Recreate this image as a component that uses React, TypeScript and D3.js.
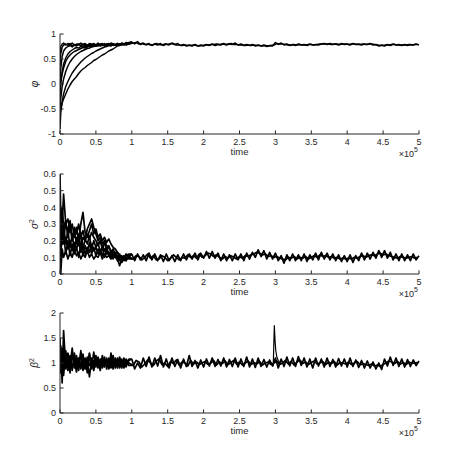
import React from 'react';
import * as d3 from 'd3';

// ---------- data ----------
// early-phase sampling times (units of 1e5)
const EARLY_T = [0, 0.01, 0.03, 0.05, 0.08, 0.11, 0.14, 0.17, 0.2, 0.23, 0.26, 0.29, 0.32, 0.35, 0.38, 0.41, 0.44, 0.47, 0.5, 0.53, 0.56, 0.59, 0.62, 0.65, 0.68, 0.71, 0.74, 0.77, 0.8, 0.83, 0.86, 0.89, 0.92, 0.96];
// converged tails: run A sampled from 1.00, run B from 1.02, both every 0.04
const TAIL_A_START = 1.0;
const TAIL_B_START = 1.02;
const TAIL_STEP = 0.04;

const PHI_RUNS = [
  [-0.55, -0.5, -0.38, -0.3, -0.2, -0.1, -0.02, 0.05, 0.1, 0.15, 0.21, 0.26, 0.3, 0.33, 0.37, 0.4, 0.43, 0.47, 0.49, 0.52, 0.55, 0.58, 0.6, 0.63, 0.66, 0.68, 0.7, 0.73, 0.76, 0.77, 0.79, 0.8, 0.79, 0.82],
  [-0.9, -0.6, -0.35, -0.2, -0.05, 0.05, 0.14, 0.22, 0.28, 0.34, 0.39, 0.44, 0.48, 0.52, 0.55, 0.58, 0.61, 0.63, 0.66, 0.68, 0.7, 0.72, 0.74, 0.75, 0.77, 0.76, 0.79, 0.78, 0.8, 0.78, 0.81, 0.79, 0.8, 0.82],
  [-0.5, -0.3, -0.05, 0.1, 0.25, 0.36, 0.44, 0.5, 0.55, 0.59, 0.62, 0.65, 0.67, 0.69, 0.71, 0.72, 0.74, 0.75, 0.77, 0.76, 0.78, 0.77, 0.79, 0.78, 0.8, 0.77, 0.79, 0.78, 0.81, 0.78, 0.8, 0.79, 0.81, 0.83],
  [-0.3, 0.0, 0.25, 0.4, 0.52, 0.6, 0.65, 0.68, 0.71, 0.73, 0.72, 0.75, 0.74, 0.76, 0.75, 0.78, 0.76, 0.78, 0.77, 0.79, 0.76, 0.78, 0.77, 0.8, 0.78, 0.8, 0.77, 0.79, 0.78, 0.8, 0.79, 0.81, 0.78, 0.8],
  [-0.1, 0.05, 0.2, 0.32, 0.45, 0.53, 0.58, 0.62, 0.65, 0.67, 0.69, 0.71, 0.73, 0.72, 0.74, 0.76, 0.75, 0.77, 0.76, 0.78, 0.77, 0.79, 0.76, 0.78, 0.8, 0.77, 0.79, 0.78, 0.8, 0.79, 0.81, 0.78, 0.8, 0.82],
  [0.0, 0.3, 0.55, 0.66, 0.72, 0.75, 0.77, 0.74, 0.78, 0.76, 0.79, 0.77, 0.8, 0.76, 0.78, 0.77, 0.8, 0.78, 0.79, 0.77, 0.8, 0.78, 0.81, 0.77, 0.79, 0.78, 0.8, 0.77, 0.79, 0.8, 0.78, 0.8, 0.79, 0.81],
  [0.35, 0.6, 0.74, 0.78, 0.8, 0.77, 0.81, 0.76, 0.79, 0.78, 0.8, 0.76, 0.79, 0.81, 0.77, 0.8, 0.78, 0.81, 0.76, 0.79, 0.78, 0.8, 0.77, 0.79, 0.81, 0.78, 0.8, 0.79, 0.81, 0.78, 0.8, 0.79, 0.82, 0.8],
  [0.6, 0.75, 0.8, 0.82, 0.78, 0.81, 0.79, 0.82, 0.77, 0.8, 0.79, 0.82, 0.78, 0.8, 0.77, 0.81, 0.79, 0.8, 0.78, 0.82, 0.79, 0.81, 0.78, 0.8, 0.79, 0.82, 0.8, 0.78, 0.81, 0.79, 0.82, 0.8, 0.83, 0.81],
];

const PHI_TAIL_A = [
  0.84, 0.80, 0.85, 0.79, 0.82, 0.78, 0.81, 0.77, 0.80, 0.78, 0.81, 0.77, 0.80, 0.78, 0.82, 0.79, 0.81, 0.77, 0.79, 0.76, 0.78, 0.76, 0.79, 0.76, 0.78,
  0.76, 0.79, 0.77, 0.80, 0.77, 0.79, 0.78, 0.81, 0.78, 0.80, 0.79, 0.82, 0.78, 0.80, 0.77, 0.79, 0.77, 0.79, 0.76, 0.78, 0.76, 0.78, 0.75, 0.77, 0.76,
  0.83, 0.79, 0.82, 0.78, 0.80, 0.77, 0.79, 0.77, 0.80, 0.78, 0.79, 0.77, 0.80, 0.78, 0.79, 0.78, 0.80, 0.81, 0.79, 0.81, 0.79, 0.80, 0.78, 0.81, 0.79,
  0.80, 0.78, 0.81, 0.79, 0.80, 0.78, 0.80, 0.79, 0.81, 0.78, 0.79, 0.76, 0.78, 0.76, 0.79, 0.77, 0.80, 0.78, 0.79, 0.77, 0.79, 0.77, 0.79, 0.78, 0.80,
  0.78,
];
const PHI_TAIL_B = [
  0.82, 0.83, 0.80, 0.81, 0.79, 0.80, 0.78, 0.79, 0.81, 0.79, 0.78, 0.80, 0.79, 0.81, 0.80, 0.78, 0.78, 0.77, 0.78, 0.77, 0.77, 0.78, 0.77, 0.76, 0.77,
  0.78, 0.78, 0.79, 0.79, 0.80, 0.79, 0.80, 0.79, 0.80, 0.81, 0.79, 0.79, 0.78, 0.78, 0.77, 0.78, 0.77, 0.78, 0.77, 0.77, 0.76, 0.77, 0.76, 0.77, 0.78,
  0.81, 0.80, 0.80, 0.79, 0.78, 0.78, 0.79, 0.78, 0.79, 0.78, 0.78, 0.79, 0.79, 0.78, 0.79, 0.80, 0.80, 0.80, 0.80, 0.79, 0.80, 0.80, 0.79, 0.80, 0.80,
  0.79, 0.80, 0.80, 0.79, 0.79, 0.80, 0.79, 0.80, 0.80, 0.79, 0.78, 0.77, 0.77, 0.78, 0.78, 0.79, 0.79, 0.78, 0.78, 0.78, 0.78, 0.79, 0.78, 0.79, 0.79,
];

const SIG_RUNS = [
  [0.6, 0.35, 0.3, 0.48, 0.3, 0.33, 0.25, 0.3, 0.22, 0.28, 0.2, 0.3, 0.37, 0.25, 0.22, 0.26, 0.3, 0.24, 0.27, 0.22, 0.24, 0.2, 0.22, 0.19, 0.21, 0.18, 0.16, 0.15, 0.13, 0.11, 0.09, 0.1, 0.08, 0.11],
  [0.5, 0.2, 0.4, 0.28, 0.32, 0.22, 0.3, 0.2, 0.26, 0.18, 0.24, 0.16, 0.22, 0.2, 0.27, 0.3, 0.33, 0.28, 0.24, 0.2, 0.22, 0.18, 0.2, 0.17, 0.16, 0.14, 0.13, 0.12, 0.1, 0.09, 0.07, 0.1, 0.09, 0.1],
  [0.3, 0.1, 0.25, 0.18, 0.22, 0.15, 0.2, 0.14, 0.19, 0.15, 0.2, 0.13, 0.17, 0.12, 0.16, 0.13, 0.18, 0.14, 0.16, 0.12, 0.14, 0.11, 0.15, 0.12, 0.13, 0.1, 0.12, 0.1, 0.11, 0.08, 0.1, 0.09, 0.11, 0.12],
  [0.2, 0.0, 0.15, 0.1, 0.14, 0.09, 0.13, 0.1, 0.15, 0.11, 0.13, 0.09, 0.12, 0.1, 0.14, 0.1, 0.12, 0.09, 0.11, 0.1, 0.13, 0.09, 0.12, 0.1, 0.11, 0.09, 0.12, 0.1, 0.09, 0.05, 0.09, 0.08, 0.1, 0.09],
  [0.45, 0.25, 0.35, 0.22, 0.3, 0.26, 0.32, 0.2, 0.28, 0.24, 0.3, 0.22, 0.26, 0.2, 0.24, 0.21, 0.25, 0.22, 0.2, 0.17, 0.2, 0.15, 0.19, 0.14, 0.17, 0.13, 0.15, 0.12, 0.13, 0.1, 0.11, 0.09, 0.12, 0.1],
  [0.35, 0.15, 0.2, 0.3, 0.18, 0.26, 0.16, 0.24, 0.14, 0.22, 0.17, 0.25, 0.15, 0.21, 0.18, 0.23, 0.15, 0.2, 0.16, 0.19, 0.13, 0.17, 0.14, 0.16, 0.12, 0.14, 0.11, 0.13, 0.1, 0.12, 0.09, 0.11, 0.1, 0.1],
  [0.25, 0.4, 0.18, 0.24, 0.12, 0.2, 0.11, 0.18, 0.12, 0.16, 0.1, 0.18, 0.11, 0.17, 0.13, 0.19, 0.12, 0.16, 0.11, 0.15, 0.12, 0.16, 0.1, 0.14, 0.11, 0.13, 0.09, 0.12, 0.08, 0.1, 0.07, 0.1, 0.08, 0.11],
];

const SIG_TAIL_A = [
  0.12, 0.08, 0.12, 0.085, 0.115, 0.08, 0.125, 0.085, 0.12, 0.08, 0.115, 0.075, 0.12, 0.08, 0.11, 0.075, 0.115, 0.08, 0.12, 0.085, 0.12, 0.09, 0.125, 0.085, 0.125,
  0.095, 0.135, 0.095, 0.135, 0.095, 0.125, 0.08, 0.12, 0.08, 0.115, 0.08, 0.12, 0.085, 0.12, 0.08, 0.125, 0.09, 0.13, 0.1, 0.145, 0.105, 0.14, 0.09, 0.13, 0.09,
  0.125, 0.08, 0.11, 0.065, 0.115, 0.08, 0.12, 0.08, 0.115, 0.08, 0.12, 0.075, 0.115, 0.085, 0.125, 0.085, 0.13, 0.09, 0.125, 0.085, 0.12, 0.08, 0.115, 0.075, 0.11,
  0.075, 0.115, 0.07, 0.11, 0.08, 0.125, 0.085, 0.125, 0.09, 0.13, 0.095, 0.14, 0.1, 0.14, 0.095, 0.13, 0.085, 0.12, 0.08, 0.12, 0.08, 0.115, 0.08, 0.12, 0.085,
  0.11,
];
const SIG_TAIL_B = [
  0.09, 0.11, 0.105, 0.085, 0.1, 0.12, 0.095, 0.11, 0.085, 0.09, 0.11, 0.1, 0.08, 0.095, 0.115, 0.1, 0.085, 0.1, 0.095, 0.115, 0.1, 0.11, 0.095, 0.12, 0.1,
  0.11, 0.125, 0.12, 0.105, 0.115, 0.1, 0.09, 0.105, 0.095, 0.11, 0.1, 0.09, 0.105, 0.095, 0.11, 0.105, 0.115, 0.12, 0.13, 0.125, 0.115, 0.12, 0.105, 0.11, 0.1,
  0.105, 0.095, 0.09, 0.085, 0.1, 0.095, 0.105, 0.09, 0.1, 0.095, 0.105, 0.09, 0.1, 0.11, 0.1, 0.115, 0.105, 0.11, 0.1, 0.105, 0.095, 0.1, 0.09, 0.095, 0.09,
  0.095, 0.09, 0.1, 0.095, 0.105, 0.11, 0.1, 0.11, 0.115, 0.11, 0.12, 0.125, 0.115, 0.12, 0.11, 0.105, 0.1, 0.095, 0.105, 0.1, 0.095, 0.1, 0.105, 0.095, 0.1,
];

const BETA_RUNS = [
  [1.0, 1.35, 0.6, 1.65, 0.9, 1.2, 0.95, 1.3, 0.9, 1.15, 0.85, 1.25, 0.95, 1.1, 0.8, 1.2, 0.9, 1.22, 0.95, 1.1, 0.9, 1.15, 0.92, 1.1, 0.88, 1.2, 0.95, 1.1, 0.9, 1.12, 0.93, 1.1, 0.95, 1.05],
  [1.5, 0.8, 1.3, 0.75, 1.25, 0.9, 1.15, 0.85, 1.2, 0.92, 1.1, 0.88, 1.18, 0.9, 1.05, 0.72, 1.1, 0.95, 1.15, 0.9, 1.05, 0.95, 1.12, 0.88, 1.08, 0.92, 1.15, 0.9, 1.05, 0.94, 1.08, 0.9, 1.06, 0.95],
  [0.9, 1.1, 0.85, 1.25, 0.88, 1.1, 0.8, 1.2, 0.95, 1.05, 0.9, 1.2, 0.85, 1.08, 0.95, 1.18, 0.88, 1.05, 0.92, 1.12, 0.85, 1.1, 0.95, 1.05, 0.9, 1.12, 0.88, 1.08, 0.92, 1.1, 0.9, 1.05, 0.92, 1.08],
  [1.1, 0.95, 1.2, 0.9, 1.08, 0.85, 1.12, 0.9, 1.05, 0.82, 1.1, 0.93, 1.0, 0.88, 1.12, 0.95, 1.02, 0.85, 1.1, 0.95, 1.08, 0.9, 1.0, 0.96, 1.1, 0.9, 1.02, 0.95, 1.1, 0.9, 1.0, 0.95, 1.08, 1.0],
];

const BETA_TAIL_A = [
  1.08, 0.88, 1.0, 0.9, 1.1, 0.93, 1.12, 0.92, 1.1, 0.94, 1.15, 0.92, 1.08, 0.9, 1.1, 0.93, 1.07, 0.9, 1.08, 0.93, 1.15, 0.93, 1.05, 0.9, 1.06,
  0.92, 1.08, 0.94, 1.1, 0.93, 1.07, 0.94, 1.1, 0.92, 1.07, 0.93, 1.1, 0.92, 1.08, 0.93, 1.12, 0.92, 1.08, 0.91, 1.1, 0.93, 1.07, 0.92, 1.06, 0.94,
  1.1, 0.9, 1.08, 0.93, 1.12, 0.94, 1.1, 0.93, 1.13, 0.95, 1.1, 0.92, 1.08, 0.9, 1.1, 0.94, 1.08, 0.92, 1.1, 0.93, 1.07, 0.92, 1.09, 0.94, 1.08,
  0.92, 1.1, 0.93, 1.06, 0.91, 1.05, 0.9, 1.04, 0.9, 1.02, 0.88, 1.0, 0.87, 1.08, 0.94, 1.12, 0.95, 1.1, 0.93, 1.08, 0.92, 1.07, 0.93, 1.06, 0.95,
  1.04,
];
const BETA_TAIL_B = [
  0.95, 1.05, 1.02, 0.92, 0.98, 1.06, 1.0, 0.95, 1.04, 1.08, 0.97, 1.0, 0.93, 1.03, 0.99, 1.06, 0.96, 1.02, 1.0, 0.94, 1.05, 0.98, 1.02, 0.97, 1.0,
  1.03, 0.97, 1.0, 1.05, 0.96, 1.02, 0.99, 1.04, 0.97, 1.01, 1.05, 0.98, 1.02, 0.96, 1.0, 1.04, 0.97, 1.01, 0.98, 1.03, 0.96, 1.0, 1.02, 0.97, 1.0,
  1.04, 0.97, 1.0, 1.05, 0.98, 1.03, 0.96, 1.02, 1.06, 0.99, 1.02, 0.97, 1.01, 1.04, 0.98, 1.0, 1.03, 0.97, 1.02, 0.99, 1.03, 0.96, 1.01, 1.0, 0.98,
  1.02, 0.97, 1.0, 1.03, 0.96, 0.99, 0.97, 0.95, 0.98, 0.94, 0.96, 0.93, 0.97, 1.0, 1.04, 1.02, 0.99, 1.03, 0.98, 1.01, 0.97, 1.02, 0.99, 1.0, 1.01,
];

// a single run's transient spike near t = 3e5
const BETA_SPIKE_T = [2.94, 2.97, 2.985, 2.995, 3.005, 3.02, 3.04, 3.07];
const BETA_SPIKE = [1.0, 0.95, 1.75, 1.45, 1.25, 1.12, 1.05, 0.98];

const X_TICKS = [0, 0.5, 1, 1.5, 2, 2.5, 3, 3.5, 4, 4.5, 5];
const X_TICK_LABELS = ['0', '0.5', '1', '1.5', '2', '2.5', '3', '3.5', '4', '4.5', '5'];
const PHI_TICKS = [-1, -0.5, 0, 0.5, 1];
const PHI_TICK_LABELS = ['-1', '-0.5', '0', '0.5', '1'];
const SIG_TICKS = [0, 0.1, 0.2, 0.3, 0.4, 0.5, 0.6];
const SIG_TICK_LABELS = ['0', '0.1', '0.2', '0.3', '0.4', '0.5', '0.6'];
const BETA_TICKS = [0, 0.5, 1, 1.5, 2];
const BETA_TICK_LABELS = ['0', '0.5', '1', '1.5', '2'];

// ---------- drawing ----------
const W = 463;
const H = 465;
const X0 = 60;
const X1 = 419;
const INK = '#262626';
const FONT = 'Liberation Sans, Arial, Helvetica, sans-serif';

type PanelProps = {
  id: string;
  top: number;
  bottom: number;
  domain: [number, number];
  ticks: number[];
  tickLabels: string[];
  runs: number[][];
  tailA: number[];
  tailB: number[];
  extraT?: number[];
  extraV?: number[];
  lineWidth: number;
  label: React.ReactNode;
};

function Panel(p: PanelProps) {
  const x = d3.scaleLinear().domain([0, 5]).range([X0, X1]);
  const y = d3.scaleLinear().domain(p.domain).range([p.bottom, p.top]);
  const line = d3
    .line<[number, number]>()
    .x((d) => x(d[0]))
    .y((d) => y(d[1]));
  const tailA: [number, number][] = p.tailA.map((v, i) => [TAIL_A_START + i * TAIL_STEP, v]);
  const tailB: [number, number][] = p.tailB.map((v, i) => [TAIL_B_START + i * TAIL_STEP, v]);
  const runPaths = p.runs.map((r, k) => {
    const pts: [number, number][] = EARLY_T.map((t, i) => [t, r[i]]);
    pts.push(k % 2 === 0 ? tailA[0] : tailB[0]);
    return line(pts) as string;
  });
  const extraPath =
    p.extraT && p.extraV ? (line(p.extraT.map((t, i) => [t, p.extraV![i]] as [number, number])) as string) : null;
  const clipId = `clip-${p.id}`;
  const tickLen = 3.6;
  return (
    <g>
      <defs>
        <clipPath id={clipId}>
          <rect x={X0} y={p.top - 1} width={X1 - X0 + 1} height={p.bottom - p.top + 2} />
        </clipPath>
      </defs>
      <g clipPath={`url(#${clipId})`} fill="none" stroke="#000" strokeLinejoin="round">
        {runPaths.map((d, i) => (
          <path key={i} d={d} strokeWidth={p.lineWidth} />
        ))}
        <path d={line(tailA) as string} strokeWidth={p.lineWidth} />
        <path d={line(tailB) as string} strokeWidth={p.lineWidth} />
        {extraPath && <path d={extraPath} strokeWidth={1.2} />}
      </g>
      {/* axes */}
      <g stroke={INK} strokeWidth={1} fill="none">
        <line x1={X0} x2={X1} y1={p.bottom} y2={p.bottom} />
        <line x1={X0} x2={X0} y1={p.top} y2={p.bottom} />
        {X_TICKS.map((t) => (
          <line key={t} x1={x(t)} x2={x(t)} y1={p.bottom} y2={p.bottom - tickLen} />
        ))}
        {p.ticks.map((t) => (
          <line key={t} x1={X0} x2={X0 + tickLen} y1={y(t)} y2={y(t)} />
        ))}
      </g>
      <g fill={INK} fontFamily={FONT} fontSize={9}>
        {X_TICKS.map((t, i) => (
          <text key={t} x={x(t)} y={p.bottom + 10.5} textAnchor="middle">
            {X_TICK_LABELS[i]}
          </text>
        ))}
        {p.ticks.map((t, i) => (
          <text key={t} x={X0 - 4} y={y(t) + 3.2} textAnchor="end">
            {p.tickLabels[i]}
          </text>
        ))}
        <text x={(X0 + X1) / 2} y={p.bottom + 20.5} textAnchor="middle" fontSize={9.5}>
          time
        </text>
        <text x={X1 - 5} y={p.bottom + 22.5} textAnchor="end" fontSize={9}>
          ×10
        </text>
        <text x={X1 - 5} y={p.bottom + 17.5} textAnchor="start" fontSize={7}>
          5
        </text>
        <text
          transform={`translate(${X0 - 22},${(p.top + p.bottom) / 2}) rotate(-90)`}
          textAnchor="middle"
          fontSize={10}
        >
          {p.label}
        </text>
      </g>
    </g>
  );
}

export default function App() {
  return (
    <svg
      width={W}
      height={H}
      viewBox={`0 0 ${W} ${H}`}
      style={{ position: 'absolute', left: 0, top: 0, background: '#fff' }}
    >
      <rect width={W} height={H} fill="#fff" />
      <Panel
        id="phi"
        top={34}
        bottom={134}
        domain={[-1, 1]}
        ticks={PHI_TICKS}
        tickLabels={PHI_TICK_LABELS}
        runs={PHI_RUNS}
        tailA={PHI_TAIL_A}
        tailB={PHI_TAIL_B}
        lineWidth={1.45}
        label={<tspan fontStyle="italic">φ</tspan>}
      />
      <Panel
        id="sig"
        top={174}
        bottom={274}
        domain={[0, 0.6]}
        ticks={SIG_TICKS}
        tickLabels={SIG_TICK_LABELS}
        runs={SIG_RUNS}
        tailA={SIG_TAIL_A}
        tailB={SIG_TAIL_B}
        lineWidth={1.7}
        label={
          <>
            <tspan fontStyle="italic">σ</tspan>
            <tspan fontSize={7} dy={-4}>2</tspan>
          </>
        }
      />
      <Panel
        id="beta"
        top={313}
        bottom={413}
        domain={[0, 2]}
        ticks={BETA_TICKS}
        tickLabels={BETA_TICK_LABELS}
        runs={BETA_RUNS}
        tailA={BETA_TAIL_A}
        tailB={BETA_TAIL_B}
        extraT={BETA_SPIKE_T}
        extraV={BETA_SPIKE}
        lineWidth={1.7}
        label={
          <>
            <tspan fontStyle="italic">β</tspan>
            <tspan fontSize={7} dy={-4}>2</tspan>
          </>
        }
      />
    </svg>
  );
}
